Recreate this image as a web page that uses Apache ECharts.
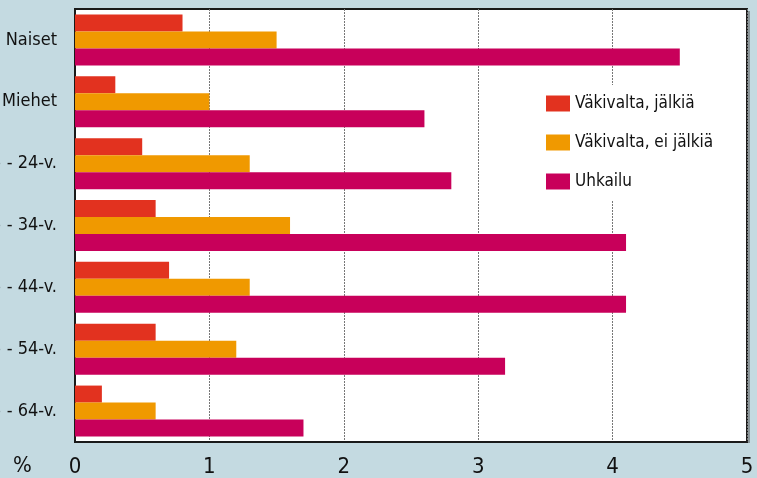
<!DOCTYPE html>
<html><head><meta charset="utf-8">
<script src="https://cdn.jsdelivr.net/npm/echarts@6/dist/echarts.min.js"></script>
<style>html,body{margin:0;padding:0;background:#c4dae1;}#c{width:757px;height:478px;}</style>
</head><body><div id="c"></div>
<script>
const categories = ['Naiset', 'Miehet', '15 - 24-v.', '25 - 34-v.', '35 - 44-v.', '45 - 54-v.', '55 - 64-v.'];
const seriesNames = ['Väkivalta, jälkiä', 'Väkivalta, ei jälkiä', 'Uhkailu'];
const vakivaltaJalkia = [0.8, 0.3, 0.5, 0.6, 0.7, 0.6, 0.2];
const vakivaltaEiJalkia = [1.5, 1.0, 1.3, 1.6, 1.3, 1.2, 0.6];
const uhkailu = [4.5, 2.6, 2.8, 4.1, 4.1, 3.2, 1.7];
const xTicks = [0, 1, 2, 3, 4, 5];

const FONT = '"Liberation Sans Narrow", "DejaVu Sans Condensed", sans-serif';
const colors = ['#e2321f', '#f09900', '#c8005a'];
const chart = echarts.init(document.getElementById('c'), null, {renderer: 'canvas'});
const values = [vakivaltaJalkia, vakivaltaEiJalkia, uhkailu];
chart.setOption({
  backgroundColor: '#c4dae1',
  animation: false,
  grid: {left: 75, top: 9, right: 10, bottom: 36, containLabel: false, outerBoundsMode: 'none',
         show: true, backgroundColor: '#ffffff', borderColor: '#1a1a1a', borderWidth: 2},
  legend: {
    orient: 'vertical', left: 536, top: 85,
    backgroundColor: '#ffffff', padding: [10, 8, 10, 10],
    itemWidth: 24, itemHeight: 16, itemGap: 22,
    icon: 'rect',
    textStyle: {fontFamily: FONT, fontSize: 17, color: '#111', lineHeight: 16},
    data: seriesNames
  },
  xAxis: {
    type: 'value', min: xTicks[0], max: xTicks[xTicks.length - 1], interval: 1,
    axisLine: {show: true, lineStyle: {color: '#1a1a1a', width: 2}},
    axisTick: {show: false},
    axisLabel: {fontFamily: FONT, fontSize: 22, color: '#111', margin: 14},
    splitLine: {show: true, lineStyle: {color: '#777', type: [2, 1], width: 1}}
  },
  yAxis: {
    type: 'category', data: categories, inverse: true,
    axisLine: {show: true, lineStyle: {color: '#1a1a1a', width: 2}},
    axisTick: {show: false},
    axisLabel: {fontFamily: FONT, fontSize: 18, color: '#111', margin: 18}
  },
  graphic: [
    {type: 'text', left: 13, top: 455, style: {text: '%', font: '22px ' + FONT, fill: '#111'}},
    {type: 'rect', shape: {x: 748, y: 11, width: 2, height: 432}, style: {fill: '#8a9599'}, z: 1}
  ],
  series: seriesNames.map((n, i) => ({
    name: n, type: 'bar', data: values[i], barWidth: 17, barGap: '0%',
    itemStyle: {color: colors[i]}, z: 2
  }))
});
</script></body></html>
